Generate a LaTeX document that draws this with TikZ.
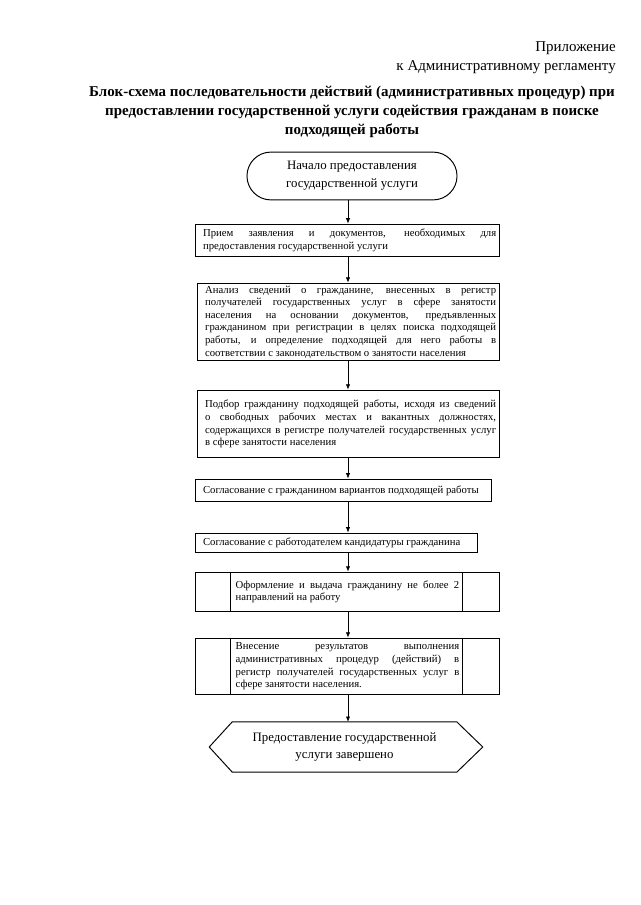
\documentclass[tikz,border=0pt]{standalone}
\usepackage{fontspec}
\setmainfont{Liberation Serif}
\usetikzlibrary{shapes.misc,arrows.meta,positioning,calc}

\tikzset{
  boxline/.style={draw, line width=0.9pt},
  stepbox/.style={rectangle, boxline, align=justify, inner xsep=3pt, inner ysep=1pt,
    font=\fontsize{10}{11.8}\selectfont, execute at begin node={\leftskip=4pt\relax}},
  sidebox/.style={stepbox, inner xsep=37pt, minimum width=284pt,
    execute at begin node={\leftskip=0pt\relax}},
  startbox/.style={rounded rectangle, boxline, align=center, minimum width=203pt,
    minimum height=44.7pt, font=\fontsize{12}{16.5}\selectfont},
  arr/.style={-{Latex[length=5pt,width=4pt]}, line width=0.6pt}
}

\begin{document}
\begin{tikzpicture}[x=0.3285mm, y=-0.3285mm]
  \useasboundingbox (0,0) rectangle (640,905);
  \coordinate (axis) at (348,0);

  % heading
  \node[anchor=east, inner sep=0pt, font=\fontsize{14}{17}\selectfont] (app) at (616,48) {Приложение};
  \node[anchor=east, inner sep=0pt, font=\fontsize{14}{17}\selectfont] (reg) at (616,67) {к Административному регламенту};
  \node[align=center, inner sep=0pt, font=\fontsize{14}{17.7}\selectfont\bfseries] (title) at (352,112)
    {Блок-схема последовательности действий (административных процедур) при\\
     предоставлении государственной услуги содействия гражданам в поиске\\
     подходящей работы};

  % flow
  \node[startbox] (start) at (352,176) {Начало предоставления\\государственной услуги};
  \node[stepbox, text width=278pt, minimum height=30.7pt] (b1) at (347.5,240.5)
    {Прием заявления и документов, необходимых для\linebreak
     предоставления государственной услуги};
  \node[stepbox, text width=276pt, minimum height=72.6pt] (b2) at (348.5,322)
    {Анализ сведений о гражданине, внесенных в регистр\linebreak
     получателей государственных услуг в сфере занятости\linebreak
     населения на основании документов, предъявленных\linebreak
     гражданином при регистрации в целях поиска подходящей\linebreak
     работы, и определение подходящей для него работы в\linebreak
     соответствии с законодательством о занятости населения};
  \node[stepbox, text width=276pt, minimum height=63.3pt] (b3) at (348.5,424)
    {Подбор гражданину подходящей работы, исходя из сведений\linebreak
     о свободных рабочих местах и вакантных должностях,\linebreak
     содержащихся в регистре получателей государственных услуг\linebreak
     в сфере занятости населения};
  \node[stepbox, text width=270.6pt, minimum height=21.4pt] (b4) at (343.5,490.5)
    {Согласование с гражданином вариантов подходящей работы};
  \node[stepbox, text width=257.5pt, minimum height=18.6pt] (b5) at (336.5,543)
    {Согласование с работодателем кандидатуры гражданина};
  \node[sidebox, text width=209pt, minimum height=37.2pt] (b6) at (347.5,592)
    {Оформление и выдача гражданину не более 2\linebreak
     направлений на работу};
  \node[sidebox, text width=209pt, minimum height=53pt] (b7) at (347.5,666.5)
    {Внесение результатов выполнения\linebreak
     административных процедур (действий) в\linebreak
     регистр получателей государственных услуг в\linebreak
     сфере занятости населения.};
  \node[align=center, inner sep=0pt, minimum width=209.5pt, minimum height=46.6pt,
        font=\fontsize{12}{16.5}\selectfont] (fin) at (344.5,747)
    {Предоставление государственной\\услуги завершено};

  % side columns
  \foreach \b in {b6,b7} {
    \draw[boxline] ($(\b.north west)+(35,0)$) -- ($(\b.south west)+(35,0)$);
    \draw[boxline] ($(\b.north east)+(-37,0)$) -- ($(\b.south east)+(-37,0)$);
  }
  \draw[boxline] (fin.north west) -- (fin.north east) -- ($(fin.east)+(26,0)$)
    -- (fin.south east) -- (fin.south west) -- ($(fin.west)+(-23,0)$) -- cycle;

  % arrows
  \draw[arr] (start.south -| axis) -- (b1.north -| axis);
  \draw[arr] (b1.south -| axis) -- (b2.north -| axis);
  \draw[arr] (b2.south -| axis) -- (b3.north -| axis);
  \draw[arr] (b3.south -| axis) -- (b4.north -| axis);
  \draw[arr] (b4.south -| axis) -- (b5.north -| axis);
  \draw[arr] (b5.south -| axis) -- (b6.north -| axis);
  \draw[arr] (b6.south -| axis) -- (b7.north -| axis);
  \draw[arr] (b7.south -| axis) -- (fin.north -| axis);
\end{tikzpicture}
\end{document}
